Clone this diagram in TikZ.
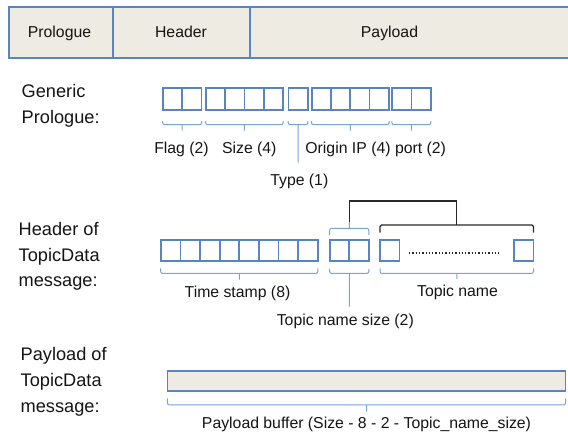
\documentclass[tikz,border=0pt]{standalone}
\usepackage{fontspec}
\setmainfont{Liberation Sans}
\usetikzlibrary{calc}

\definecolor{boxblue}{RGB}{88,132,194}
\definecolor{brkblue}{RGB}{124,162,212}
\definecolor{cellfill}{RGB}{238,236,226}
\definecolor{txt}{RGB}{20,20,20}
\definecolor{blk}{RGB}{40,40,40}

\tikzset{
  cell/.style={draw=boxblue, line width=1.8pt, fill=cellfill, inner sep=0pt,
               minimum height=51pt, anchor=north west},
  byte/.style={draw=boxblue, line width=1.7pt, fill=white, inner sep=0pt,
               minimum width=19.3pt, minimum height=22pt, anchor=north west},
  hbyte/.style={byte, minimum width=19.6pt, minimum height=21pt},
  brk/.style={draw=brkblue, line width=1pt, rounded corners=2pt},
  blkbrk/.style={draw=blk, line width=1.3pt, rounded corners=1.5pt},
  lbl/.style={font=\fontsize{15.8}{18}\selectfont, inner sep=0pt, anchor=base, text=txt},
  side/.style={font=\fontsize{18.2}{22}\selectfont, inner sep=0pt, anchor=base west, text=txt},
}

% bracket below a run of nodes: left, right, gap, depth, tick, style, tick-end name
\newcommand\brkunder[7]{%
  \draw[#6] let \p1=(#1.south west), \p2=(#2.south east) in
    (\x1+0.7pt,\y1-#3) -- (\x1+0.7pt,\y1-#3-#4) -- (\x2-0.7pt,\y1-#3-#4) -- (\x2-0.7pt,\y1-#3)
    (\x1/2+\x2/2,\y1-#3-#4) -- ++(0pt,-#5) coordinate (#7);
}
% bracket above a run of nodes
\newcommand\brkover[7]{%
  \draw[#6] let \p1=(#1.north west), \p2=(#2.north east) in
    (\x1+0.7pt,\y1+#3) -- (\x1+0.7pt,\y1+#3+#4) -- (\x2-0.7pt,\y1+#3+#4) -- (\x2-0.7pt,\y1+#3)
    (\x1/2+\x2/2,\y1+#3+#4) -- ++(0pt,#5) coordinate (#7);
}

\begin{document}
\begin{tikzpicture}[x=1pt,y=1pt]
\useasboundingbox (0,0) rectangle (568,-436);

% ---- message layout bar
\node[cell, minimum width=104.3pt] (cPro) at (8,-6) {};
\node[cell, minimum width=136.4pt] (cHdr) at (112.3,-6) {};
\node[cell, minimum width=330pt]   (cPay) at (248.7,-6) {};
\node[lbl] (tPro) at (59.5,-37.7) {Prologue};
\node[lbl] (tHdr) at (181,-37.7) {Header};
\node[lbl] (tPay) at (389.5,-37.7) {Payload};

% ---- generic prologue
\node[side] (gA) at (21.5,-97.3) {Generic};
\node[side] (gB) at (21.5,-123.3) {Prologue:};

\foreach \n/\x in {f1/162,f2/181.3,
                   s1/205,s2/224.3,s3/243.6,s4/262.9,
                   ty/287.5,
                   o1/310.8,o2/330.1,o3/349.4,o4/368.7,
                   p1/391.2,p2/410.5}
  \node[byte] (\n) at (\x,-87.5) {};

\brkunder{f1}{f2}{10pt}{3.5pt}{6pt}{brk}{flagT}
\brkunder{s1}{s4}{10pt}{3.5pt}{6pt}{brk}{sizeT}
\brkunder{ty}{ty}{10pt}{3.5pt}{38pt}{brk}{typeT}
\brkunder{o1}{o4}{10pt}{3.5pt}{6pt}{brk}{ipT}
\brkunder{p1}{p2}{10pt}{3.5pt}{6pt}{brk}{portT}

\node[lbl] (lFlag) at (181.5,-153.3) {Flag (2)};
\node[lbl] (lSize) at (249.3,-153.3) {Size (4)};
\node[lbl] (lIP)   at (348,-153.3) {Origin IP (4)};
\node[lbl] (lPort) at (420.5,-153.3) {port (2)};
\node[lbl] (lType) at (299.3,-185) {Type (1)};

% ---- header of TopicData message
\node[side] (hA) at (18.5,-235) {Header of};
\node[side] (hB) at (18.5,-261) {TopicData};
\node[side] (hC) at (18.5,-286.5) {message:};

\foreach \i in {0,...,7}
  \node[hbyte] (ts\i) at (160+19.6*\i,-239) {};
\node[hbyte, minimum width=19.4pt] (nz1) at (329,-239) {};
\node[hbyte, minimum width=19.4pt] (nz2) at (348.4,-239) {};
\node[hbyte, minimum width=19.3pt] (tnA) at (379.3,-239) {};
\node[hbyte, minimum width=19.3pt] (tnZ) at (513.2,-239) {};
\draw[blk, line width=1.3pt, dotted]
  ([shift={(8.7pt,-2.5pt)}]tnA.east) -- ([shift={(-13.2pt,-2.5pt)}]tnZ.west);

\brkunder{ts0}{ts7}{6.7pt}{5pt}{6.3pt}{brk}{tsT}
\brkunder{nz1}{nz2}{7.2pt}{4.5pt}{33.3pt}{brk}{nzT}
\brkunder{tnA}{tnZ}{6.7pt}{5pt}{5.5pt}{brk}{tnT}
\brkover{nz1}{nz2}{4pt}{6.7pt}{6.6pt}{brk}{nzTop}
\brkover{tnA}{tnZ}{6.3pt}{7.7pt}{0pt}{blkbrk}{tnTop}
\draw[blk, line width=1.3pt] (nzTop) -- ++(0,20.7) -| (tnTop);

\node[lbl] (lTs)  at (237.5,-297.3) {Time stamp (8)};
\node[lbl] (lTn)  at (457.5,-296.7) {Topic name};
\node[lbl] (lNz)  at (345.3,-325) {Topic name size (2)};

% ---- payload of TopicData message
\node[side] (pA) at (20.5,-360.7) {Payload of};
\node[side] (pB) at (20.5,-386.7) {TopicData};
\node[side] (pC) at (20.5,-412.5) {message:};

\node[cell, line width=1.6pt, minimum width=398pt, minimum height=20pt] (pbuf) at (166.7,-370) {};
\brkunder{pbuf}{pbuf}{6.7pt}{6.6pt}{6.7pt}{brk}{pbT}
\node[lbl] (lPb) at (366.5,-428.3) {Payload buffer (Size - 8 - 2 - Topic\_name\_size)};
\end{tikzpicture}
\end{document}
